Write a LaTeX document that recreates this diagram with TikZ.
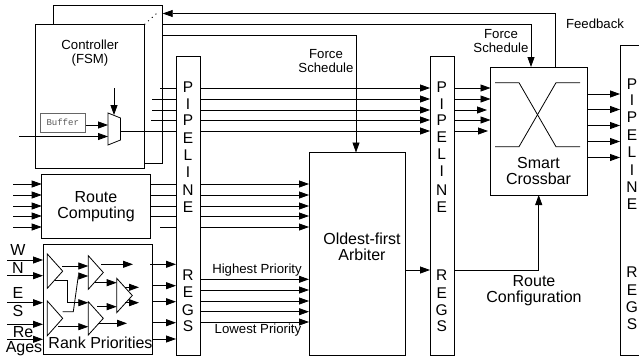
\documentclass[tikz,border=0pt]{standalone}
\usepackage{fontspec}
\setmainfont{Liberation Sans}
\newfontfamily\bufmono{Liberation Mono}
\usetikzlibrary{arrows.meta}
\newcommand{\fs}[1]{\fontsize{#1}{#1}\selectfont}
\newcommand{\rbox}[6][boxstyle]{\node[#1,minimum width={(#4-#2)*1pt},minimum height={abs(#5-#3)*1pt}] (#6) at ({(#2+#4)/2},{(#3+#5)/2}) {};}
\newcommand{\tri}[6]{% name x1 x2 y1 ymid y2
  \node[ghost,minimum width={(#3-#2)*1pt},minimum height={(#6-#4)*1pt}] (#1) at ({(#2+#3)/2},{(#4+#6)/2}) {};
  \draw[wire,fill=white] (#1.north west) -- (#1.east) -- (#1.south west) -- cycle;}
\begin{document}
\begin{tikzpicture}[x=1pt,y=-1pt,
  boxstyle/.style={draw=black,fill=white,line width=0.8pt,inner sep=0pt,outer sep=0pt},
  ghost/.style={inner sep=0pt,outer sep=0pt},
  wire/.style={line width=0.8pt,draw=black},
  arr/.style={wire,-{Triangle[length=10pt,width=7pt]}},
  big/.style={font=\fs{16},inner sep=0pt,align=center},
  mid/.style={font=\fs{13.2},inner sep=0pt,align=center},
  letter/.style={font=\fs{15.5},inner sep=0pt}]
\useasboundingbox (0,0) rectangle (639,356);
% boxes
\rbox{53.5}{5.5}{162.7}{163}{ctrlback}
\rbox{35.5}{24.5}{144.5}{168}{ctrl}
\rbox[boxstyle,draw=black!60]{40}{113}{85.5}{132}{buf}
\rbox{41.7}{174}{150.5}{238}{route}
\rbox{43}{244.7}{152}{354}{rank}
\rbox{176}{56.5}{200}{355}{pipeA}
\rbox{430}{56.5}{454}{355}{pipeB}
\rbox{309}{152.5}{405.7}{355}{arb}
\rbox{490.5}{67}{587}{195}{xbar}
\rbox[ghost]{620}{45.7}{639}{355}{pipeC}
\draw[wire] (pipeC.north east) -- (pipeC.north west) -- (pipeC.south west) -- (pipeC.south east);
\coordinate (dotend) at (157,13);
\draw[line width=0.9pt,dash pattern=on 1pt off 4pt] (ctrl.north east) -- (dotend);
% mux
\coordinate (muxa) at (108,113); \coordinate (muxb) at (120.5,118);
\coordinate (muxc) at (120.5,140); \coordinate (muxd) at (108,145);
\coordinate (muxout) at (120.5,131);
\draw[wire,fill=white] (muxa) -- (muxb) -- (muxc) -- (muxd) -- cycle;
\coordinate (muxsel) at (114,88); \coordinate (muxtop) at (114,115);
\coordinate (cin) at (19,136.5);
\draw[arr] (muxsel) -- (muxtop);
\draw[arr] (buf.east |- 0,125) -- (muxa |- 0,125);
\draw[arr] (cin) -- (muxa |- cin);
% controller to pipeline A and B
\draw[wire] (160,88) -- (pipeA.west |- 0,88);
\draw[wire] (152,99) -- (pipeA.west |- 0,99);
\draw[wire] (152,110) -- (pipeA.west |- 0,110);
\draw[wire] (151,120) -- (pipeA.west |- 0,120);
\draw[wire] (muxout) -- (pipeA.west |- muxout);
\foreach \y in {88,99,110,120,131} \draw[arr] (pipeA.east |- 0,\y) -- (pipeB.west |- 0,\y);
\foreach \y in {88,99,120} \draw[arr] (pipeB.east |- 0,\y) -- (xbar.west |- 0,\y);
\draw[arr] (pipeB.east |- 0,110) -- (487,110);
\draw[arr] (pipeB.east |- 0,131) -- (488,131);
% force schedule, feedback
\draw[arr] (ctrlback.east |- 0,35) -| (arb.north -| 356,0);
\draw[arr] (ctrlback.east |- 0,24.5) -| (xbar.north -| 531,0);
\draw[arr] (xbar.north -| 555.7,0) |- (ctrlback.east |- 0,13.5);
% route computing
\foreach \y in {184,195,206,216,227} {
  \draw[arr] (13,\y) -- (route.west |- 0,\y);
  \draw[arr] (pipeA.east |- 0,\y) -- (arb.west |- 0,\y);
}
\foreach \y in {184,195,206,216} \draw[wire] (route.east |- 0,\y) -- (pipeA.west |- 0,\y);
\draw[wire] (160,227) -- (pipeA.west |- 0,227);
% rank inputs
\foreach \y in {260,275.7,302.7,324.3,339.3} \draw[arr] (7,\y) -- (rank.west |- 0,\y);
% triangles
\tri{ta}{47.3}{62.7}{254}{271}{288.3}
\tri{tb}{47.3}{62.7}{301}{318}{335.7}
\tri{tc}{88.3}{103.3}{255.7}{272}{289.3}
\tri{td}{88.3}{103.3}{301.7}{318}{335}
\tri{te}{116.7}{132.3}{278.3}{295}{312.7}
\draw[arr] (62,266) -- (tc.west |- 0,266);
\draw[arr] (55,280) -- (67.7,280) -- (67.7,302.7) -- (td.west |- 0,302.7);
\draw[arr] (62.7,311.7) -- (73.3,311.7) -- (78.3,276) -- (tc.west |- 0,276);
\draw[arr] (58,326.7) -- (td.west |- 0,326.7);
\draw[arr] (101,264.3) -- (133,264.3);
\draw[arr] (95,282.7) -- (te.west |- 0,282.7);
\draw[arr] (97,306.7) -- (te.west |- 0,306.7);
\draw[arr] (98,323.3) -- (127,323.3);
\draw[arr] (125,287.3) -- (139,287.3);
\draw[arr] (125,302.7) -- (139,302.7);
\foreach \y/\s in {264.3/150,285.7/152,301.7/152,322.7/152,339/152} \draw[arr] (\s,\y) -- (pipeA.west |- 0,\y);
\foreach \y in {279.3,290,301,311.7,322} \draw[arr] (pipeA.east |- 0,\y) -- (arb.west |- 0,\y);
% arbiter to pipeline, crossbar
\draw[arr] (arb.east |- 0,270) -- (pipeB.west |- 0,270);
\draw[arr] (pipeB.east |- 0,270) -| (xbar.south -| 538.7,0);
\foreach \y in {94,109.5,125.5,141.5,157.5} \draw[arr] (xbar.east |- 0,\y) -- (pipeC.west |- 0,\y);
% crossbar symbol
\draw[wire] (495,82.7) -- (519,82.7) -- (556,146.7) -- (580,146.7);
\draw[wire] (495,146.7) -- (519,146.7) -- (556,82.7) -- (580,82.7);
% texts
\node[mid,font=\fs{13.2}] (tctrl) at (90,53) {Controller\\(FSM)};
\node[inner sep=0pt,font=\bufmono\fs{9},text=black!65] (tbuf) at (buf.center) {Buffer};
\node[big] (troute) at (96,207) {Route\\Computing};
\node[big] (trank) at (100.5,343) {Rank Priorities};
\node[big] (tarb) at (362,247) {Oldest-first\\Arbiter};
\node[big] (txbar) at (538.5,170.5) {Smart\\Crossbar};
\node[big] (tconf) at (534,291) {Route\\Configuration};
\node[mid] (tfa) at (326,61) {Force\\Schedule};
\node[mid] (tfb) at (501,41) {Force\\Schedule};
\node[mid] (tfeed) at (595,24) {Feedback};
\node[mid] (thi) at (257,270) {Highest Priority};
\node[mid] (tlo) at (258,330) {Lowest Priority};
\node[big] (tw) at (18,250) {W};
\node[big] (tn) at (18,268) {N};
\node[big] (te2) at (18,293) {E};
\node[big] (ts) at (18,311) {S};
\node[big] (tre) at (23,332) {Re};
\node[big] (tages) at (24,349) {Ages};
\foreach \l/\y [count=\i] in {P/87,I/104,P/120,E/138,L/155,I/172,N/190,E/207,R/275,E/292,G/310,S/326}
  \node[letter] (la\i) at (188,\y) {\l};
\foreach \l/\y [count=\i] in {P/87,I/104,P/120,E/137,L/154,I/171,N/190,E/207,R/275,E/293,G/310,S/326}
  \node[letter] (lb\i) at (441.7,\y) {\l};
\foreach \l/\y [count=\i] in {P/84,I/100,P/117,E/135,L/152,I/170,N/187,E/204,R/272,E/290,G/307,S/324}
  \node[letter] (lc\i) at (632,\y) {\l};
\end{tikzpicture}
\end{document}
